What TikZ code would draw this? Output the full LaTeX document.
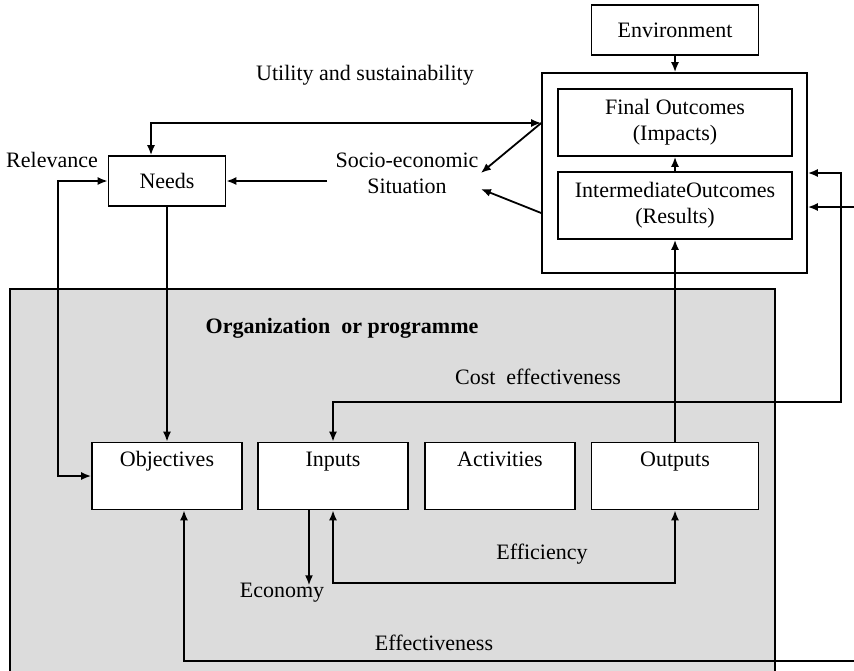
\documentclass[tikz,border=0pt]{standalone}
\usepackage{fontspec}
\setmainfont{Liberation Serif}
\usepackage{xcolor}
\usepackage{tikz}
\usetikzlibrary{shapes.geometric, arrows, arrows.meta}

\definecolor{orggray}{RGB}{220,220,220}

\begin{document}
\begin{tikzpicture}[x=0.5pt, y=-0.5pt, font=\fontsize{11}{13}\selectfont]
		% Define styles for the blocks and arrows
		\tikzstyle{block} = [rectangle, draw, fill=white, text centered, align=center, inner sep=0pt, line width=0.8pt]
		\tikzstyle{unit} = [block, minimum width=75pt, minimum height=33.5pt]
		\tikzstyle{arrow} = [->, >={Latex[length=5pt,width=4pt]}, line width=0.9pt]
		\tikzstyle{txt} = [inner sep=1pt, align=center]

		\useasboundingbox (0,0) rectangle (854,670);

		% Background of the organization
		\draw [fill=orggray, line width=0.8pt] (10,289) rectangle (775,674);

		% Define the nodes (blocks)
		\node (env) [block, minimum width=83.5pt, minimum height=25pt] at (675,30) {Environment};
		\node (outer) [block, minimum width=132.5pt, minimum height=100pt] at (674.5,173) {};
		\node (final) [block, minimum width=117pt, minimum height=33.5pt] at (675,122.5) {Final Outcomes\\(Impacts)};
		\node (inter) [block, minimum width=117pt, minimum height=33.5pt] at (675,205.5) {IntermediateOutcomes\\(Results)};
		\node (needs) [block, minimum width=58.5pt, minimum height=25pt] at (167,181) {Needs};
		\node (obj) [unit] at (167,476) {Objectives\\\strut};
		\node (inputs) [unit] at (333,476) {Inputs\\\strut};
		\node (activities) [unit] at (500,476) {Activities\\\strut};
		\node (outputs) [unit, minimum width=83.5pt] at (675,476) {Outputs\\\strut};

		% Define the labels
		\node (utility) [txt] at (365,75) {Utility and sustainability};
		\node (relevance) [txt] at (52,160) {Relevance};
		\node (socio) [txt] at (407,173) {Socio-economic\\Situation};
		\node (org) [txt, font=\fontsize{11}{13}\selectfont\bfseries] at (342,328) {Organization\ \ or programme};
		\node (costeff) [txt] at (538,377) {Cost\ \ effectiveness};
		\node (efficiency) [txt] at (542,554) {Efficiency};
		\node (economy) [txt] at (282,593) {Economy};
		\node (effectiveness) [txt] at (434,643) {Effectiveness};

		% Free ends of the connectors
		\coordinate (costline) at (841,402);
		\coordinate (effline) at (333,583);
		\coordinate (edgeA) at (854,207);
		\coordinate (edgeB) at (854,661);

		% Draw arrows between the blocks
		\draw [arrow] (env.south) -- (env.south |- outer.north);
		\draw [arrow] (inter.north) -- (final.south);
		\draw [arrow] (outputs.north) -- (outputs.north |- inter.south);
		\draw [arrow, <->] ([xshift=-8pt]needs.north) |- ([yshift=25pt]outer.west);
		\draw [arrow, <->] (needs.west) -- ++(-50,0) |- (obj.west);
		\draw [arrow] (needs.south) -- (needs.south |- obj.north);
		\draw [arrow] ([xshift=-3pt]socio.west |- needs.east) -- (needs.east);
		\draw [arrow] ([yshift=25pt]outer.west) -- (socio.east);
		\draw [arrow] ([yshift=-20pt]outer.west) -- ([yshift=-8pt]socio.east);
		\draw [arrow, <->] (inputs.north) |- (costline) |- (outer.east);
		\draw [arrow] (edgeA) -- (edgeA -| outer.east);
		\draw [arrow, <->] (inputs.south) -- (effline) -| (outputs.south);
		\draw [arrow] ([xshift=-12pt]inputs.south) -- ++(0,75);
		\draw [arrow] (edgeB) -| ([xshift=8.5pt]obj.south);
	\end{tikzpicture}
\end{document}
